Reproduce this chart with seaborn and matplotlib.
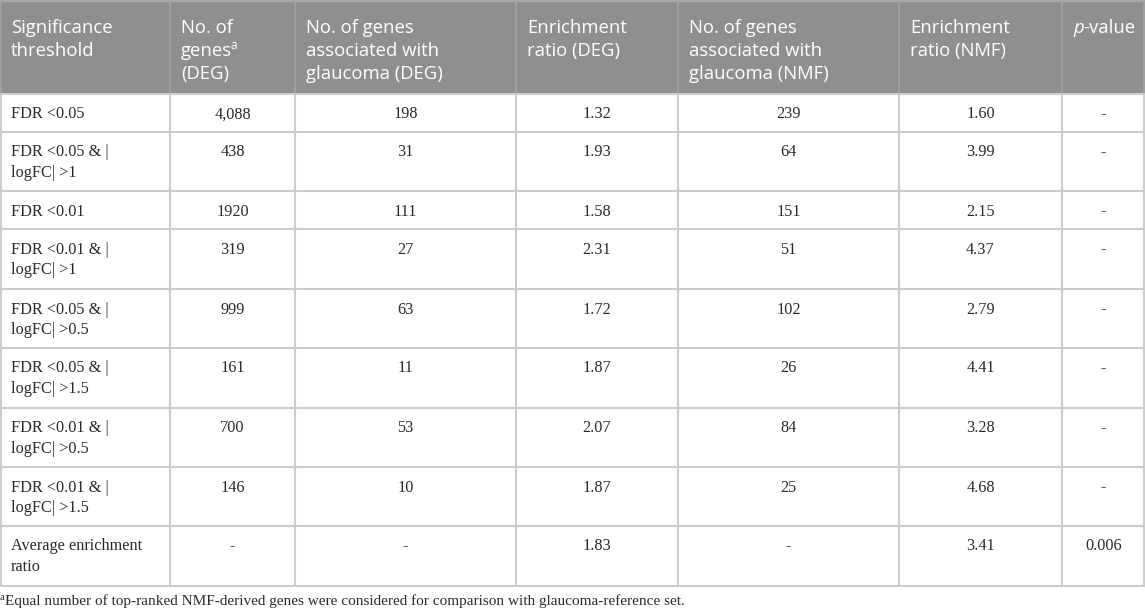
import matplotlib.pyplot as plt
import seaborn as sns

sns.set_style("white")
plt.rcParams['font.family'] = ['Open Sans', 'DejaVu Sans']

# ── table data ────────────────────────────────────────────────────────────────
headers = [
    ["Significance", "threshold"],
    ["No. of", "genes", "(DEG)"],
    ["No. of genes", "associated with", "glaucoma (DEG)"],
    ["Enrichment", "ratio (DEG)"],
    ["No. of genes", "associated with", "glaucoma (NMF)"],
    ["Enrichment", "ratio (NMF)"],
    ["p-value"],
]
thresholds = [
    "FDR <0.05", "FDR <0.05 & |\nlogFC| >1", "FDR <0.01", "FDR <0.01 & |\nlogFC| >1",
    "FDR <0.05 & |\nlogFC| >0.5", "FDR <0.05 & |\nlogFC| >1.5", "FDR <0.01 & |\nlogFC| >0.5",
    "FDR <0.01 & |\nlogFC| >1.5", "Average enrichment\nratio",
]
n_genes_deg = ["4,088", "438", "1920", "319", "999", "161", "700", "146", "-"]
glaucoma_deg = ["198", "31", "111", "27", "63", "11", "53", "10", "-"]
ratio_deg = ["1.32", "1.93", "1.58", "2.31", "1.72", "1.87", "2.07", "1.87", "1.83"]
glaucoma_nmf = ["239", "64", "151", "51", "102", "26", "84", "25", "-"]
ratio_nmf = ["1.60", "3.99", "2.15", "4.37", "2.79", "4.41", "3.28", "4.68", "3.41"]
p_values = ["-", "-", "-", "-", "-", "-", "-", "-", "0.006"]
footnote = "Equal number of top-ranked NMF-derived genes were considered for comparison with glaucoma-reference set."

columns = [thresholds, n_genes_deg, glaucoma_deg, ratio_deg, glaucoma_nmf, ratio_nmf, p_values]

# layout (pixels)
col_edges = [0, 170, 295, 516, 678, 899, 1062, 1145]
row_edges = [0, 94, 132, 191, 229, 289, 348, 408, 467, 526, 586]

fig = plt.figure(figsize=(11.45, 6.10), dpi=100)
ax = fig.add_axes([0, 0, 1, 1])
ax.set_xlim(0, 1145)
ax.set_ylim(610, 0)
ax.axis('off')

header_bg = '#8f8f8f'
line_col = '#cccccc'
text_col = '#2a2a2a'
serif = 'Liberation Serif'
hsize, bsize = 13.3, 11.7

# header background
ax.fill_between([0, 1145], 0, row_edges[1], color=header_bg, lw=0)

# header text, one line at a time
for j, lines in enumerate(headers):
    x0 = col_edges[j] + 11
    for k, line in enumerate(lines):
        yb = 33 + 23 * k
        if line == "p-value":
            t = ax.text(x0, yb, "p", style='italic', color='white', fontsize=hsize, va='baseline')
            ax.annotate("-value", xycoords=t, xy=(1, 0), va='bottom', ha='left',
                        color='white', fontsize=hsize, xytext=(-0.5, 0), textcoords='offset points')
        elif line == "genes":
            t = ax.text(x0, yb, line, color='white', fontsize=hsize, va='baseline')
            ax.annotate("a", xycoords=t, xy=(1, 0), va='baseline', ha='left',
                        color='white', fontsize=8.5, xytext=(-1, 8), textcoords='offset points')
        else:
            ax.text(x0, yb, line, color='white', fontsize=hsize, va='baseline', ha='left')

# body text
for j, col in enumerate(columns):
    for i, val in enumerate(col):
        top = row_edges[i + 1]
        for k, line in enumerate(val.split("\n")):
            yb = top + 24.5 + 20.5 * k
            if j == 0:
                ax.text(col_edges[0] + 11, yb, line, family=serif, fontsize=bsize,
                        va='baseline', ha='left', color=text_col)
            else:
                xc = (col_edges[j] + col_edges[j + 1]) / 2
                ax.text(xc, yb, line, family=serif, fontsize=bsize,
                        va='baseline', ha='center', color=text_col)

# grid lines
for y in row_edges[1:]:
    ax.plot([0, 1145], [y, y], color=line_col, lw=1.5, solid_capstyle='butt')
ax.plot([0, 1145], [1, 1], color='#a8a8a8', lw=1.5)
for x in col_edges:
    xx = min(max(x, 1), 1144)
    ax.plot([xx, xx], [0, row_edges[1]], color='#a3a3a3', lw=1.2)
    ax.plot([xx, xx], [row_edges[1], row_edges[-1]], color=line_col, lw=1.5)

# footnote
ax.text(0, 600, "a", family=serif, fontsize=7.5, va='baseline', ha='left', color=text_col)
ax.text(5, 605, footnote, family=serif, fontsize=11, va='baseline', ha='left', color=text_col)

fig.savefig('out.png', dpi=100)
